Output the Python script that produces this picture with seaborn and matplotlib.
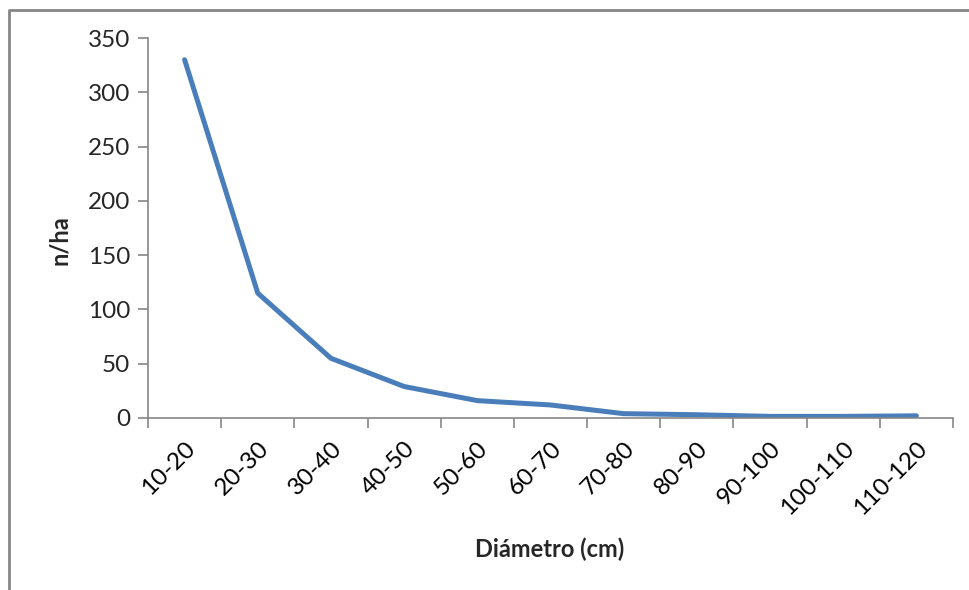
import matplotlib
matplotlib.use("Agg")
import matplotlib.pyplot as plt
import seaborn as sns
import pandas as pd
import numpy as np

categories = ["10-20", "20-30", "30-40", "40-50", "50-60", "60-70",
              "70-80", "80-90", "90-100", "100-110", "110-120"]
values = [330, 115, 55, 29, 16, 12, 4, 3, 1.5, 1.5, 2]
yticks = [0, 50, 100, 150, 200, 250, 300, 350]

sns.set_theme(style="white")
plt.rcParams['font.family'] = ['Lato', 'DejaVu Sans']

df = pd.DataFrame({"pos": np.arange(len(categories)), "n": values})

fig = plt.figure(figsize=(9.7, 5.9), dpi=100)
ax = fig.add_axes([148/970, 1-418/590, (953-148)/970, (418-38)/590])
sns.lineplot(data=df, x="pos", y="n", ax=ax, color="#4A7EBB", linewidth=3.6)

grey = "#868686"
ax.set_xlim(-0.5, len(categories) - 0.5)
ax.set_ylim(0, 350)
ax.set_yticks(yticks)
ax.set_yticklabels([str(v) for v in yticks], fontsize=17.5)
ax.set_xticks(np.arange(len(categories)))
ax.set_xticklabels(categories, fontsize=17.5, rotation=45, ha="right",
                   rotation_mode="anchor")
ax.set_xticks(np.arange(len(categories) + 1) - 0.5, minor=True)
ax.tick_params(axis="x", which="major", length=0, pad=14, colors="black")
ax.tick_params(axis="x", which="minor", length=7, width=1.2, color=grey, direction="out", bottom=True)
ax.tick_params(axis="y", which="major", length=7, width=1.2, color=grey, direction="out", left=True, pad=6)
for s in ["top", "right"]:
    ax.spines[s].set_visible(False)
for s in ["left", "bottom"]:
    ax.spines[s].set_color(grey)
    ax.spines[s].set_linewidth(1.2)
ax.set_xlabel("Diámetro (cm)", fontsize=17, fontweight="bold")
ax.set_ylabel("n/ha", fontsize=17, fontweight="bold")
ax.xaxis.set_label_coords((550-148)/(953-148), -(538-418)/380)
ax.yaxis.set_label_coords(-(148-71)/805, (418-240)/380)

# chart-area border (left and top edges visible in the reference)
x0 = (8.5 - 148) / 805
x1 = (975 - 148) / 805
ytop = (418 - 10) / 380
ybot = (418 - 600) / 380
ax.plot([x0, x0, x1], [ybot, ytop, ytop], transform=ax.transAxes, color=grey,
        linewidth=2.0, clip_on=False, zorder=10)

fig.savefig("out.png", dpi=100, facecolor="white")
